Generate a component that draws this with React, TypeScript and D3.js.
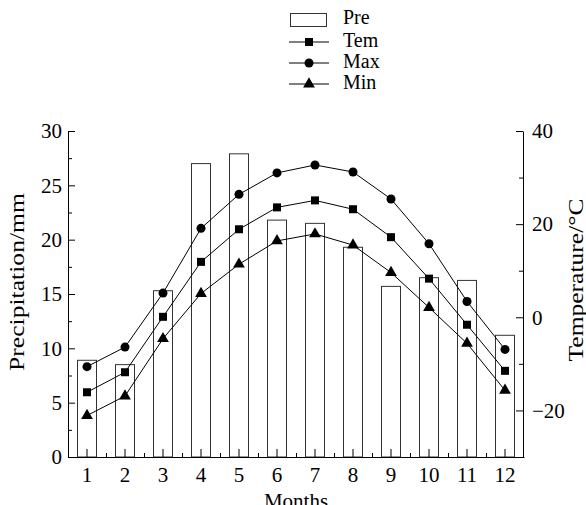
import { useEffect, useRef } from 'react';
import * as d3 from 'd3';

const months = ['1', '2', '3', '4', '5', '6', '7', '8', '9', '10', '11', '12'];
const pre = [8.9, 8.5, 15.3, 27.0, 27.9, 21.8, 21.5, 19.3, 15.7, 16.5, 16.25, 11.2];
const tem = [-16.1, -11.8, 0.1, 11.9, 18.9, 23.6, 25.1, 23.2, 17.2, 8.3, -1.6, -11.5];
const tMax = [-10.6, -6.4, 5.2, 19.1, 26.4, 31.0, 32.7, 31.2, 25.4, 15.8, 3.4, -6.9];
const tMin = [-21.1, -16.9, -4.6, 5.1, 11.4, 16.4, 17.9, 15.5, 9.6, 2.1, -5.6, -15.7];
const preTicks = [0, 5, 10, 15, 20, 25, 30];
const preMinor = [2.5, 7.5, 12.5, 17.5, 22.5, 27.5];
const temTicks = [-20, 0, 20, 40];
const temMinor = [-30, -10, 10, 30];

const W = 586;
const H = 505;
const FONT = '"Liberation Serif", "Times New Roman", serif';

const App = () => {
  const svgRef = useRef<SVGSVGElement>(null);

  useEffect(() => {
    const svg = d3.select(svgRef.current);
    svg.selectAll('*').remove();

    const left = 68, right = 524, top = 131, bottom = 457;

    const x = d3.scaleBand().domain(months).range([left, right]).paddingInner(0.5).paddingOuter(0.25);
    const xm = d3.scaleLinear().domain([0.5, 12.5]).range([left, right]);
    const yP = d3.scaleLinear().domain([0, 30]).range([bottom, top]);
    const yT = d3.scaleLinear().domain([-30, 40]).range([bottom, top]);
    const cx = (i: number) => (x(months[i]) as number) + x.bandwidth() / 2;

    // bars
    svg.append('g')
      .selectAll('rect')
      .data(pre)
      .join('rect')
      .attr('x', (d, i) => x(months[i]) as number)
      .attr('y', d => yP(d))
      .attr('width', x.bandwidth())
      .attr('height', d => bottom - yP(d))
      .attr('fill', '#fff')
      .attr('stroke', '#333')
      .attr('stroke-width', 1);

    const styleAxis = (g: any, size: number) => {
      g.selectAll('text').attr('font-family', FONT).attr('font-size', size).attr('fill', '#000');
      g.selectAll('line').attr('stroke', '#000');
      g.selectAll('path').attr('stroke', '#000');
    };

    // left axis
    const gl = svg.append('g').attr('transform', `translate(${left},0)`)
      .call(d3.axisLeft(yP).tickValues(preTicks).tickSizeInner(-7).tickSizeOuter(0).tickPadding(6));
    styleAxis(gl, 21);
    svg.append('g').attr('transform', `translate(${left},0)`)
      .call(d3.axisLeft(yP).tickValues(preMinor).tickSizeInner(-4).tickSizeOuter(0).tickFormat(() => ''))
      .call(g => g.select('.domain').remove())
      .selectAll('line').attr('stroke', '#000');

    // right axis
    const fmt = (d: any) => (d < 0 ? '\u2212' + Math.abs(d) : String(d));
    const gr = svg.append('g').attr('transform', `translate(${right - 1},0)`)
      .call(d3.axisRight(yT).tickValues(temTicks).tickSizeInner(-7).tickSizeOuter(0).tickPadding(9).tickFormat(fmt));
    styleAxis(gr, 21);
    svg.append('g').attr('transform', `translate(${right - 1},0)`)
      .call(d3.axisRight(yT).tickValues(temMinor).tickSizeInner(-4).tickSizeOuter(0).tickFormat(() => ''))
      .call(g => g.select('.domain').remove())
      .selectAll('line').attr('stroke', '#000');

    // bottom axis
    const gb = svg.append('g').attr('transform', `translate(0,${bottom})`)
      .call(d3.axisBottom(x).tickSizeInner(-8).tickSizeOuter(0).tickPadding(7));
    styleAxis(gb, 21);
    gb.selectAll('text').attr('dy', '0.85em');
    svg.append('g').attr('transform', `translate(0,${bottom})`)
      .call(d3.axisBottom(xm).tickValues(d3.range(1.5, 12, 1)).tickSizeInner(-4).tickSizeOuter(0).tickFormat(() => ''))
      .call(g => g.select('.domain').remove())
      .selectAll('line').attr('stroke', '#000');

    // lines
    const series = [
      { vals: tMax, shape: d3.symbolCircle, size: 64 },
      { vals: tem, shape: d3.symbolSquare, size: 64 },
      { vals: tMin, shape: d3.symbolTriangle, size: 60 },
    ];
    const line = d3.line<number>().x((d, i) => cx(i)).y(d => yT(d));
    series.forEach(s => {
      svg.append('path').attr('d', line(s.vals)).attr('fill', 'none').attr('stroke', '#000').attr('stroke-width', 1);
      svg.append('g').selectAll('path')
        .data(s.vals)
        .join('path')
        .attr('transform', (d, i) => `translate(${cx(i)},${yT(d)})`)
        .attr('d', d3.symbol().type(s.shape).size(s.size)())
        .attr('fill', '#000');
    });

    // axis titles
    svg.append('text')
      .attr('transform', `translate(24,282) rotate(-90)`)
      .attr('text-anchor', 'middle')
      .attr('font-family', FONT).attr('font-size', 21)
      .attr('textLength', 178).attr('lengthAdjust', 'spacingAndGlyphs')
      .text('Precipitation/mm');
    svg.append('text')
      .attr('transform', `translate(583,280) rotate(-90)`)
      .attr('text-anchor', 'middle')
      .attr('font-family', FONT).attr('font-size', 21)
      .attr('textLength', 163).attr('lengthAdjust', 'spacingAndGlyphs')
      .text('Temperature/\u00B0C');
    svg.append('text')
      .attr('x', (left + right) / 2).attr('y', 508)
      .attr('text-anchor', 'middle')
      .attr('font-family', FONT).attr('font-size', 21)
      .text('Months');

    // legend
    const lg = svg.append('g');
    lg.append('rect').attr('x', 290.5).attr('y', 13.5).attr('width', 36).attr('height', 13)
      .attr('fill', '#fff').attr('stroke', '#333');
    lg.append('text').attr('x', 343).attr('y', 24).attr('font-family', FONT).attr('font-size', 20).text('Pre');
    const legItems = [
      { name: 'Tem', shape: d3.symbolSquare, size: 64, y: 42 },
      { name: 'Max', shape: d3.symbolCircle, size: 64, y: 63 },
      { name: 'Min', shape: d3.symbolTriangle, size: 60, y: 84 },
    ];
    legItems.forEach(it => {
      lg.append('line').attr('x1', 289).attr('x2', 329).attr('y1', it.y).attr('y2', it.y).attr('stroke', '#000');
      lg.append('path').attr('transform', `translate(309,${it.y})`)
        .attr('d', d3.symbol().type(it.shape).size(it.size)()).attr('fill', '#000');
      lg.append('text').attr('x', 343).attr('y', it.y + 5).attr('font-family', FONT).attr('font-size', 20).text(it.name);
    });
  }, []);

  return (
    <svg ref={svgRef} width={W} height={H} style={{ display: 'block', position: 'absolute', left: 0, top: 0, background: '#fff' }} />
  );
};

export default App;
